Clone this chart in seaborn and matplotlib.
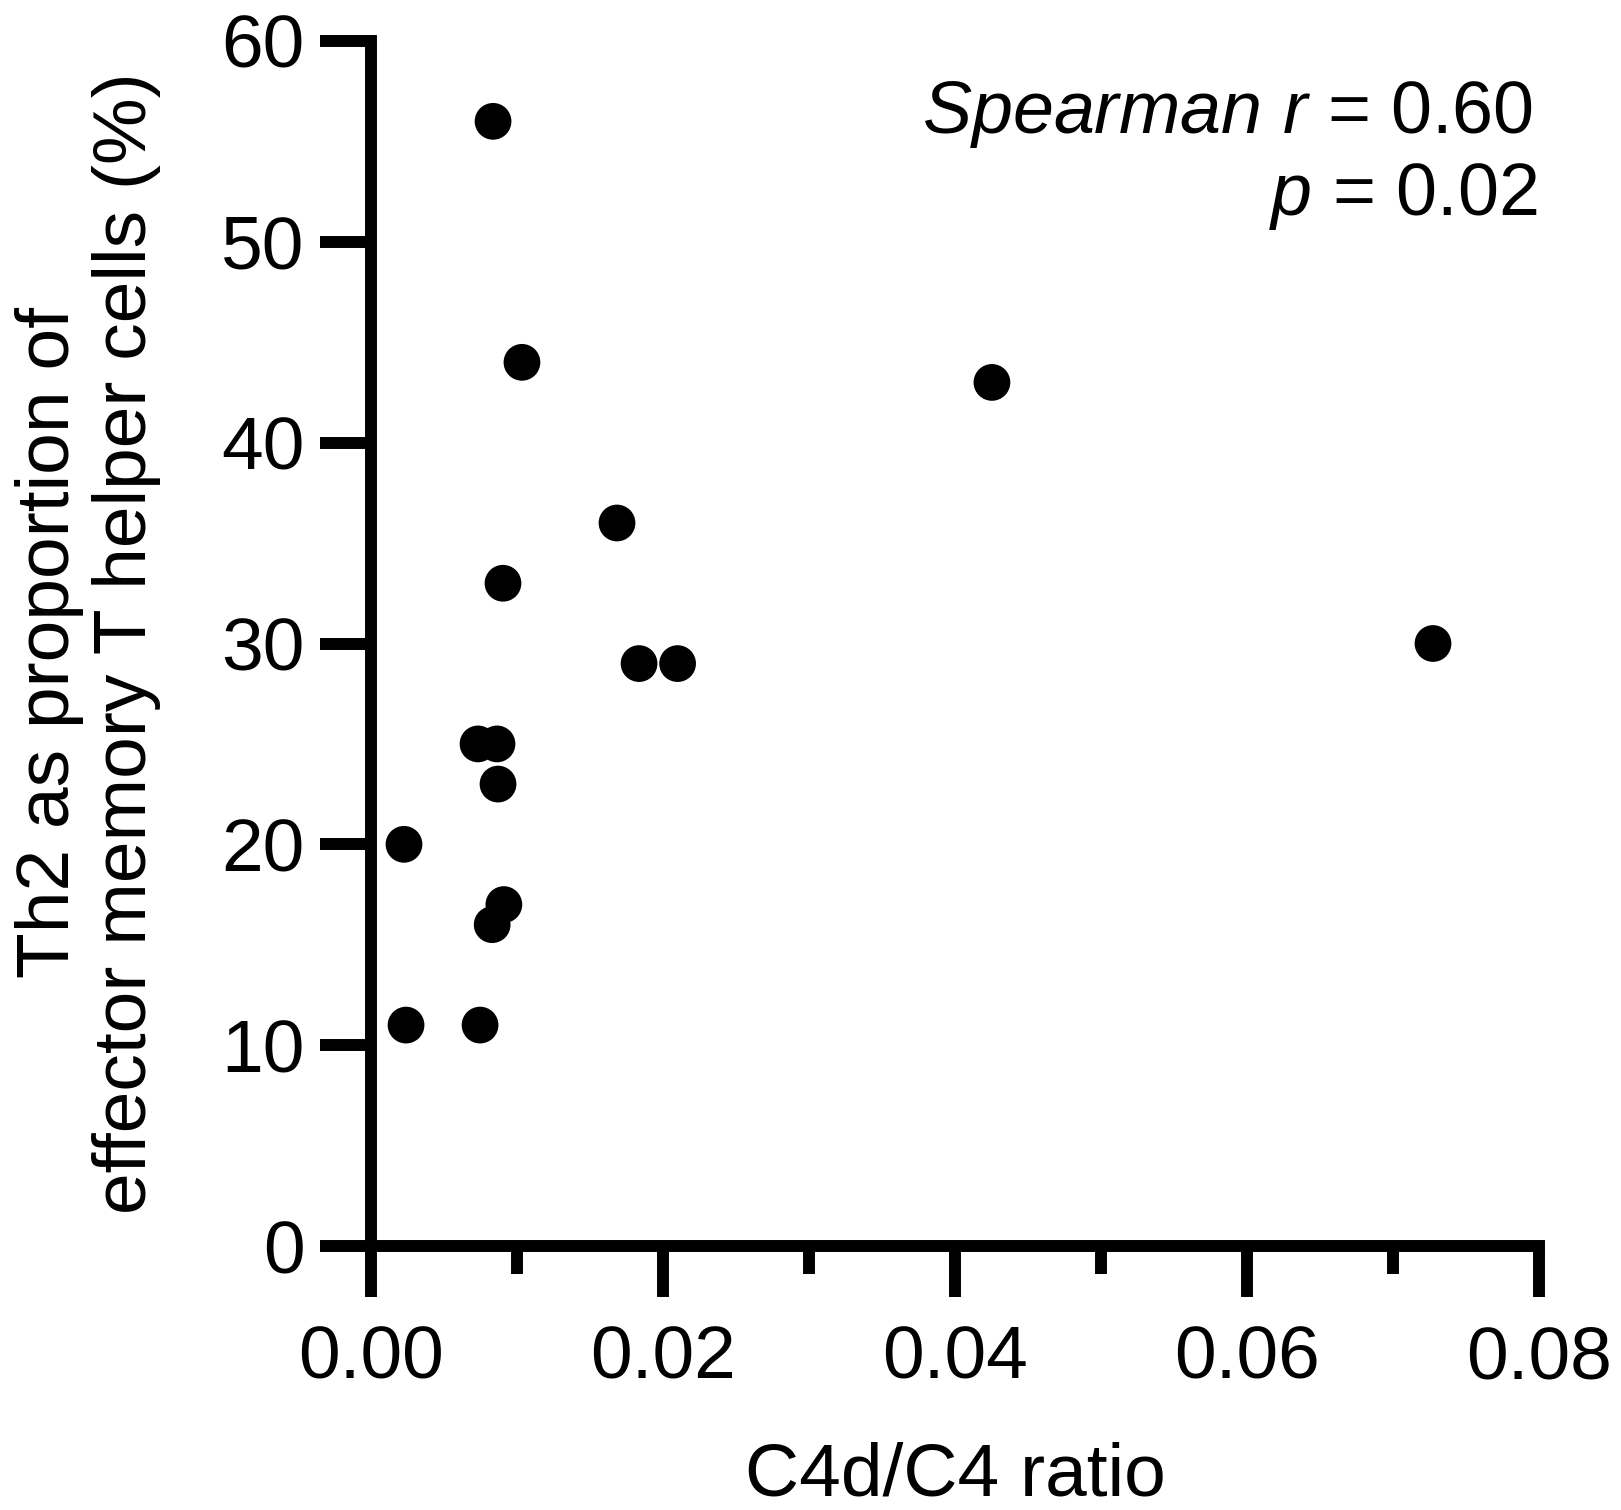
import matplotlib
matplotlib.use("Agg")
import matplotlib.pyplot as plt
import seaborn as sns
import pandas as pd
from matplotlib.ticker import MultipleLocator

c4d_c4_ratio = [0.00836, 0.01034, 0.04253, 0.01685, 0.00904, 0.07274, 0.01836, 0.0210,
                0.00733, 0.00863, 0.0087, 0.00226, 0.0091, 0.0083, 0.0024, 0.00747]
th2_pct = [56.0, 44.0, 43.0, 36.0, 33.0, 30.0, 29.0, 29.0,
           25.0, 25.0, 23.0, 20.0, 17.0, 16.0, 11.0, 11.0]
x_ticks = [0.00, 0.02, 0.04, 0.06, 0.08]
x_ticklabels = ["0.00", "0.02", "0.04", "0.06", "0.08"]
y_ticks = [0, 10, 20, 30, 40, 50, 60]

df = pd.DataFrame({"x": c4d_c4_ratio, "y": th2_pct})

sns.set_style("ticks")
plt.rcParams['font.family'] = ['Liberation Sans', 'DejaVu Sans']
plt.rcParams['mathtext.fontset'] = 'custom'
plt.rcParams['mathtext.rm'] = 'Liberation Sans'
plt.rcParams['mathtext.it'] = 'Liberation Sans:italic'
plt.rcParams['text.color'] = 'black'

W, H = 1621, 1510
fig = plt.figure(figsize=(W / 100, H / 100), dpi=100)
L, R, T, B = 371, 1539, 41, 1246
ax = fig.add_axes([L / W, 1 - B / H, (R - L) / W, (B - T) / H])

sns.scatterplot(data=df, x="x", y="y", ax=ax, color="black", s=700,
                edgecolor="none", linewidth=0, legend=False, clip_on=False, zorder=3)

ax.set_xlim(0, 0.08)
ax.set_ylim(0, 60)
ax.set_xticks(x_ticks)
ax.set_xticklabels(x_ticklabels)
ax.set_yticks(y_ticks)
ax.xaxis.set_minor_locator(MultipleLocator(0.01))

for s in ["top", "right"]:
    ax.spines[s].set_visible(False)
for s in ["left", "bottom"]:
    ax.spines[s].set_linewidth(8.6)
    ax.spines[s].set_color("black")
    ax.spines[s].set_capstyle("projecting")

ax.tick_params(axis="both", which="major", length=36.7, width=8.6, color="black",
               labelsize=54, labelcolor="black")
ax.tick_params(axis="x", which="major", pad=20)
ax.tick_params(axis="y", which="major", pad=11)
ax.tick_params(axis="x", which="minor", length=20, width=8.6, color="black")
ax.set_xlabel("")
ax.set_ylabel("")

fig.text(955 / W, 1 - 1496 / H, "C4d/C4 ratio", ha="center", va="baseline",
         fontsize=54, color="black")
fig.text(88 / W, 1 - 643 / H, "Th2 as proportion of\neffector memory T helper cells (%)",
         rotation=90, ha="center", va="center", multialignment="center",
         fontsize=54, linespacing=1.15, color="black")

fig.text(1533 / W, 1 - 133 / H, r"$Spearman\ r$ = 0.60", ha="right", va="baseline",
         fontsize=53, color="black")
fig.text(1537 / W, 1 - 215 / H, r"$p$ = 0.02", ha="right", va="baseline",
         fontsize=53, color="black")

fig.savefig("out.png", dpi=100)
